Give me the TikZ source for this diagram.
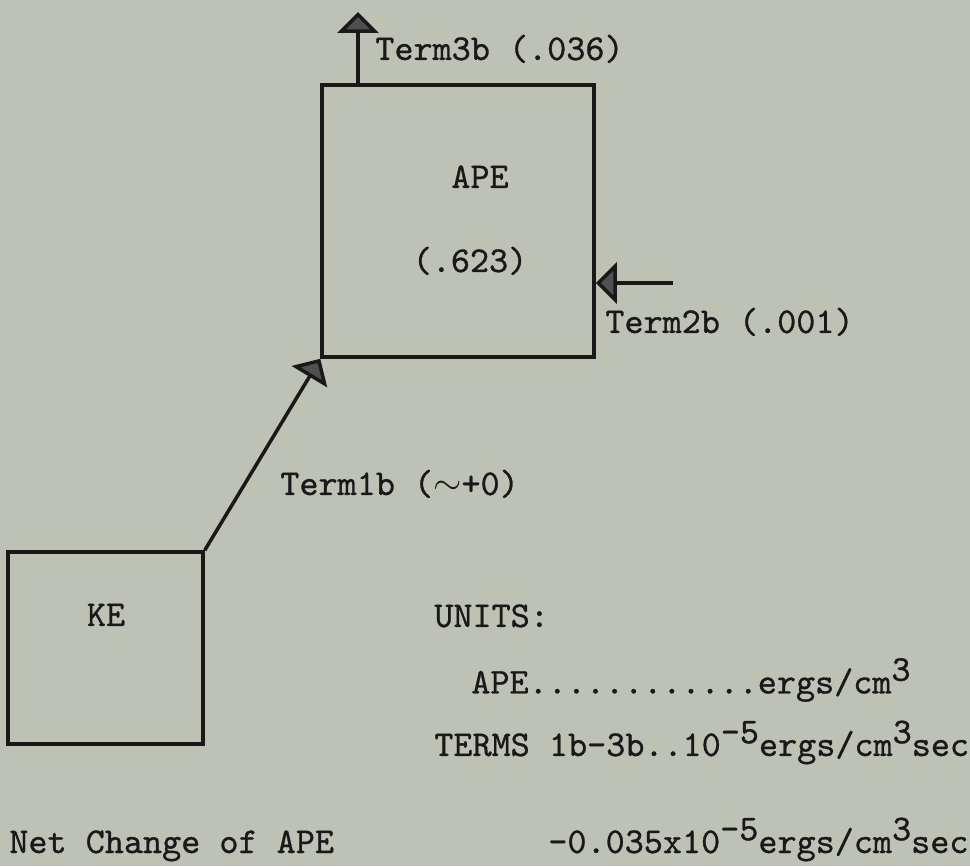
\documentclass[tikz,border=0pt]{standalone}
\usepackage{fontspec}
\usetikzlibrary{arrows.meta}
\newfontfamily\typer{lmmono10-regular}[Extension=.otf, FakeBold=0.8]
\definecolor{paper}{RGB}{190,194,180}
\definecolor{ink}{RGB}{25,25,25}
\definecolor{tipgray}{RGB}{80,80,80}
\newcommand{\raiseup}[1]{\raisebox{0.35em}{#1}}

\begin{document}
\begin{tikzpicture}[
    font=\typer\fontsize{20.7}{24}\selectfont,
    energybox/.style={draw=ink, line width=2pt, inner sep=0pt},
    flow/.style={draw=ink, line width=2pt,
      -{Triangle[length=0.42cm,width=0.82cm,fill=tipgray]}},
    lbl/.style={text=ink, inner sep=0pt}
  ]
    \fill[paper] (0,0) rectangle (19.4,17.32);
    \path[use as bounding box] (0,0) rectangle (19.4,17.32);

    % Boxes
    \node[energybox, minimum width=5.44cm, minimum height=5.44cm] (ape) at (9.16,12.90) {};
    \node[energybox, minimum width=3.9cm, minimum height=3.84cm] (ke) at (2.11,4.36) {};
    \node[lbl, anchor=base] (apename) at (9.6,13.56) {APE};
    \node[lbl, anchor=base] (apevalue) at (9.4,11.88) {(.623)};
    \node[lbl, anchor=base] (kename) at (2.12,4.80) {KE};

    % Terms
    \coordinate (term3out) at (7.16,17.08);
    \coordinate (term2in) at (13.46,11.66);
    \draw[flow] (ke.north east) -- (ape.south west);
    \draw[flow] (ape.north -| term3out) -- (term3out);
    \draw[flow] (term2in) -- (term2in -| ape.east);
    \node[lbl, anchor=base west] (term3) at (7.50,16.12) {Term3b (.036)};
    \node[lbl, anchor=base west] (term2) at (12.10,10.66) {Term2b (.001)};
    \node[lbl, anchor=base west] (term1) at (5.60,7.42) {Term1b ($\sim$+0)};

    % Units
    \node[lbl, anchor=base west] (units) at (8.68,4.78) {UNITS:};
    \node[lbl, anchor=base west] (apeunit) at (9.42,3.45)
        {APE............ergs/cm\raiseup{3}};
    \node[lbl, anchor=base west] (termunit) at (8.68,2.20)
        {TERMS 1b-3b..10\raiseup{-5}ergs/cm\raiseup{3}sec};

    % Net change
    \node[lbl, anchor=base west] (netname) at (0.18,0.26) {Net Change of APE};
    \node[lbl, anchor=base west] (netvalue) at (10.96,0.26)
        {-0.035x10\raiseup{-5}ergs/cm\raiseup{3}sec};
  \end{tikzpicture}
\end{document}
